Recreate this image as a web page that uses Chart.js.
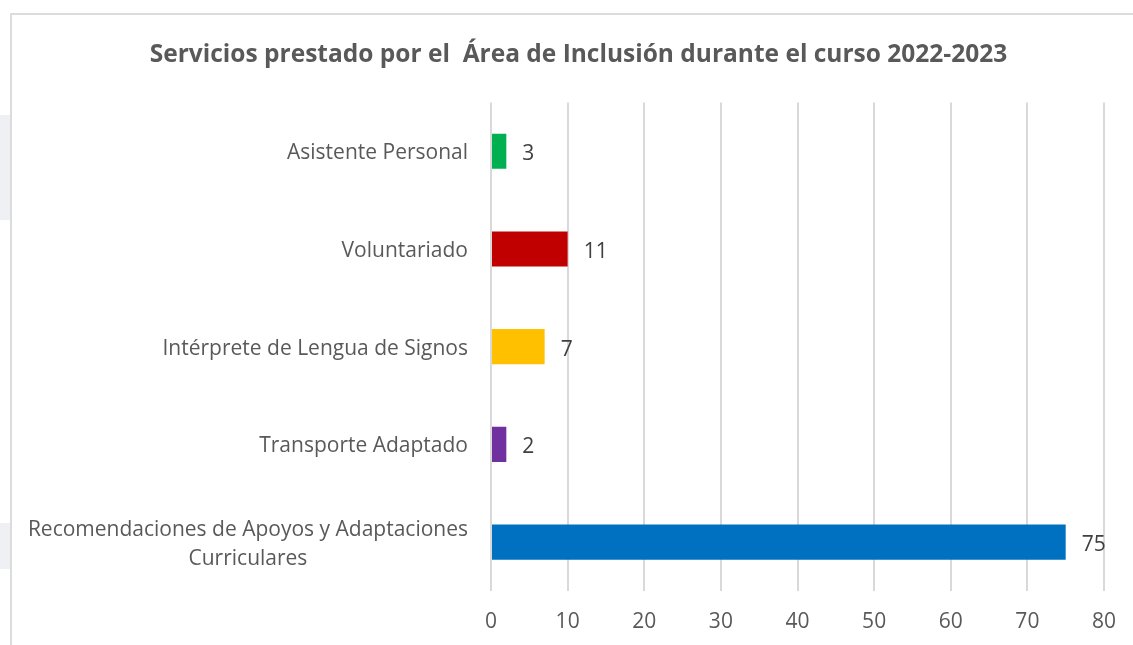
<!DOCTYPE html>
<html>
<head>
<meta charset="utf-8">
<script src="https://cdn.jsdelivr.net/npm/chart.js@4"></script>
<style>
  html, body { margin: 0; padding: 0; background: #fff; overflow: hidden; }
  body { width: 1133px; height: 645px; position: relative; }
  .side { position: absolute; left: 0; width: 10px; background: #eef0f3; }
  #box {
    position: absolute; left: 10px; top: 13px;
    width: 1140px; height: 650px;
    border: 2px solid #dcdcdc; box-sizing: border-box;
  }
  #box canvas { position: absolute; left: 0; top: 0; }
</style>
</head>
<body>
<div class="side" style="top:115px;height:105px"></div>
<div class="side" style="top:523px;height:46px"></div>
<div id="box"><canvas id="chart" width="1133" height="632"></canvas></div>
<script>
// categories (top to bottom), as drawn
const categories = [
  ['Asistente Personal'],
  ['Voluntariado'],
  ['Intérprete de Lengua de Signos'],
  ['Transporte Adaptado'],
  ['Recomendaciones de Apoyos y Adaptaciones', 'Curriculares']
];
// bar lengths
const barValues = [2, 10, 7, 2, 75];
// the numbers printed next to each bar
const valueLabels = ['3', '11', '7', '2', '75'];
const barColors = ['#00b050', '#c00000', '#ffc000', '#7030a0', '#0070c0'];
const xTicks = [0, 10, 20, 30, 40, 50, 60, 70, 80];

const FONT = '"Open Sans"';
const LABEL_SIZE = 21;

// draws the category names (wrapped lines centred, block right-aligned) and the value labels
const labelPlugin = {
  id: 'labels',
  afterDatasetsDraw(chart) {
    const ctx = chart.ctx;
    const yScale = chart.scales.y;
    const meta = chart.getDatasetMeta(0);
    ctx.save();
    ctx.font = LABEL_SIZE + 'px ' + FONT;
    ctx.textBaseline = 'middle';
    ctx.fillStyle = '#595959';
    ctx.textAlign = 'center';
    categories.forEach((lines, i) => {
      const cy = yScale.getPixelForValue(i) + 2;
      const maxW = Math.max(...lines.map(l => ctx.measureText(l).width));
      const cx = yScale.right - 23 - maxW / 2;
      lines.forEach((l, j) => {
        ctx.fillText(l, cx, cy + (j - (lines.length - 1) / 2) * 29);
      });
    });
    ctx.fillStyle = '#404040';
    ctx.textAlign = 'left';
    meta.data.forEach((bar, i) => {
      ctx.fillText(valueLabels[i], bar.x + 16, bar.y + 3);
    });
    ctx.restore();
  }
};

new Chart(document.getElementById('chart'), {
  type: 'bar',
  data: {
    labels: categories,
    datasets: [{
      data: barValues,
      backgroundColor: barColors,
      barPercentage: 0.36,
      categoryPercentage: 1
    }]
  },
  options: {
    indexAxis: 'y',
    responsive: false,
    animation: false,
    layout: { padding: 0 },
    plugins: {
      legend: { display: false },
      tooltip: { enabled: false },
      title: {
        display: true,
        text: 'Servicios prestado por el  Área de Inclusión durante el curso 2022-2023',
        color: '#595959',
        font: { family: FONT, size: 24.5, weight: 'bold', lineHeight: 1.2 },
        padding: { top: 25, bottom: 33 }
      }
    },
    scales: {
      x: {
        min: 0,
        max: 80,
        afterBuildTicks: scale => { scale.ticks = xTicks.map(v => ({ value: v })); },
        afterFit: scale => { scale.height = 56; },
        grid: { color: '#d9d9d9', lineWidth: 2, drawTicks: false },
        border: { display: false },
        ticks: {
          color: '#595959',
          padding: 18,
          font: { family: FONT, size: LABEL_SIZE }
        }
      },
      y: {
        afterFit: scale => { scale.width = 479; },
        grid: { display: false },
        border: { display: false },
        ticks: { display: false }
      },
      // empty right-hand margin so the title stays centred on the whole box
      yRight: {
        type: 'linear',
        axis: 'y',
        position: 'right',
        min: 0,
        max: 1,
        afterFit: scale => { scale.width = 41; },
        grid: { display: false },
        border: { display: false },
        ticks: { display: false }
      }
    }
  },
  plugins: [labelPlugin]
});
</script>
</body>
</html>
